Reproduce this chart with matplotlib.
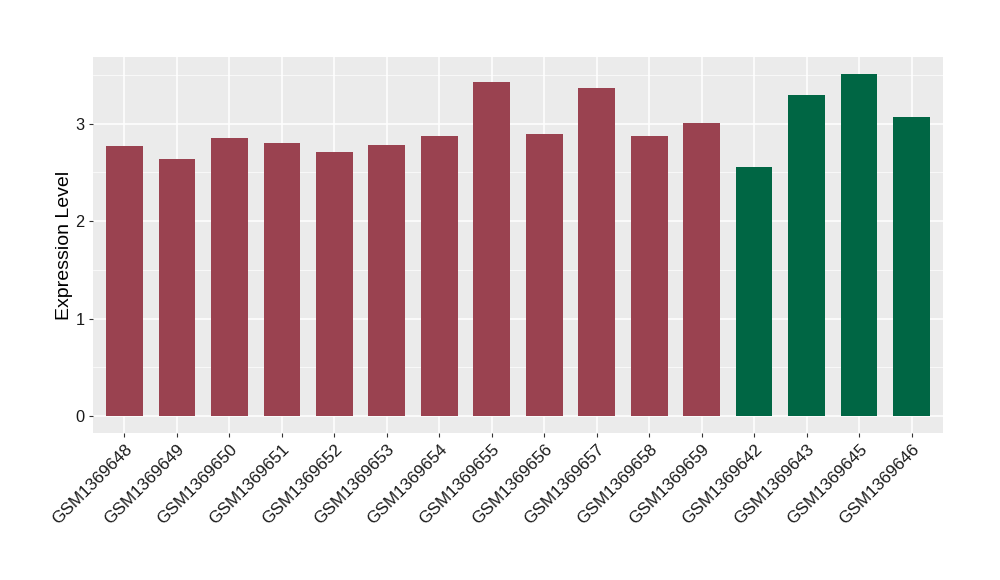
import matplotlib
matplotlib.use("Agg")
import matplotlib.pyplot as plt
import numpy as np

samples = ["GSM1369648", "GSM1369649", "GSM1369650", "GSM1369651", "GSM1369652",
           "GSM1369653", "GSM1369654", "GSM1369655", "GSM1369656", "GSM1369657",
           "GSM1369658", "GSM1369659", "GSM1369642", "GSM1369643", "GSM1369645",
           "GSM1369646"]
values = [2.77, 2.64, 2.85, 2.80, 2.71, 2.78, 2.87, 3.43, 2.90, 3.37,
          2.87, 3.01, 2.56, 3.30, 3.51, 3.07]
groups = ["A"] * 12 + ["B"] * 4
group_colors = {"A": "#9A4250", "B": "#006644"}

plt.rcParams['font.family'] = ['Liberation Sans', 'DejaVu Sans']

fig = plt.figure(figsize=(10, 5.8), dpi=100)
ax = fig.add_axes([0.093, 0.2534, 0.85, 0.6483])
ax.set_facecolor("#EBEBEB")

x = np.arange(1, len(samples) + 1)
colors = [group_colors[g] for g in groups]
ax.bar(x, values, width=0.7, color=colors, zorder=3)

ymax = max(values)
pad = 0.05 * ymax
ax.set_ylim(-pad, ymax + pad)
ax.set_xlim(0.4, len(samples) + 0.6)

ax.set_yticks([0, 1, 2, 3])
ax.set_yticks([0.5, 1.5, 2.5, 3.5], minor=True)
ax.set_xticks(x)
ax.set_xticklabels(samples, rotation=45, ha="right", va="top",
                   rotation_mode="anchor", fontsize=12.3, color="#1a1a1a")
ax.tick_params(axis="y", labelsize=11.8, labelcolor="#1a1a1a", pad=3)
ax.tick_params(axis="both", which="major", length=3, color="#333333", width=0.8)
ax.tick_params(axis="both", which="minor", length=0)

ax.grid(True, which="major", color="white", linewidth=1.1, zorder=0)
ax.grid(True, which="minor", axis="y", color="white", linewidth=0.5, zorder=0)
ax.set_axisbelow(True)
for s in ax.spines.values():
    s.set_visible(False)

ax.set_ylabel("Expression Level", fontsize=14, color="black", labelpad=2)

fig.savefig("out.png", dpi=100)
